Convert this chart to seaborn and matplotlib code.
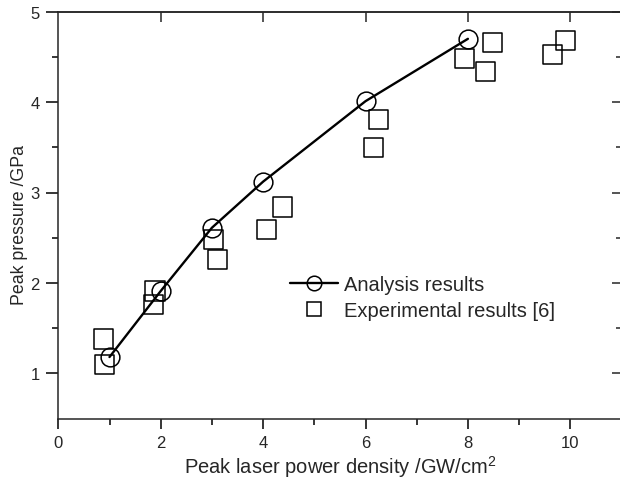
import matplotlib
matplotlib.use("Agg")
import matplotlib.pyplot as plt
from matplotlib.lines import Line2D
import seaborn as sns
import pandas as pd

# ---- data ----
analysis_x = [1, 2, 3, 4, 6, 8]
analysis_y = [1.18, 1.91, 2.61, 3.12, 4.01, 4.70]

exp_x = [0.88, 0.91, 1.86, 1.89, 3.03, 3.11, 4.07, 4.38, 6.16, 6.25, 7.94, 8.35, 8.48, 9.66, 9.90]
exp_y = [1.38, 1.10, 1.76, 1.91, 2.48, 2.26, 2.59, 2.84, 3.50, 3.81, 4.48, 4.34, 4.66, 4.53, 4.68]

x_ticks = [0, 2, 4, 6, 8, 10]
y_ticks = [1, 2, 3, 4, 5]
x_label = "Peak laser power density /GW/cm$^2$"
y_label = "Peak pressure /GPa"
legend_labels = ["Analysis results", "Experimental results [6]"]

sns.set_style("ticks")
plt.rcParams["font.family"] = ["Liberation Sans", "DejaVu Sans"]
plt.rcParams["mathtext.fontset"] = "custom"
plt.rcParams["mathtext.rm"] = "Liberation Sans"

df_a = pd.DataFrame({"x": analysis_x, "y": analysis_y})
df_e = pd.DataFrame({"x": exp_x, "y": exp_y})

fig = plt.figure(figsize=(6.2, 4.81), dpi=100)
ax = fig.add_axes([58.3 / 620, 1 - 419.5 / 481, (621.5 - 58.3) / 620, (419.5 - 12.7) / 481])

sns.lineplot(data=df_a, x="x", y="y", ax=ax, color="black", lw=1.7,
             marker="o", markersize=13.5, markerfacecolor="none",
             markeredgecolor="black", markeredgewidth=1.1, zorder=3)
sns.scatterplot(data=df_e, x="x", y="y", ax=ax, marker="s", s=190,
                facecolors="none", edgecolor="black", linewidth=1.1, zorder=4)

ax.set_xlim(0, 11)
ax.set_ylim(0.5, 5)
ax.set_xticks(x_ticks)
ax.set_yticks(y_ticks)
ax.set_xticks([1, 3, 5, 7, 9], minor=True)
ax.set_yticks([1.5, 2.5, 3.5, 4.5], minor=True)
for s in ax.spines.values():
    s.set_linewidth(1.1)
ax.tick_params(which="major", direction="out", length=7, width=1.1,
               labelsize=12, pad=5, color="black")
ax.tick_params(which="minor", direction="out", length=4, width=1.1, color="black")
ax.tick_params(axis="y", which="major", length=8.5, pad=5)

top = ax.secondary_xaxis("top")
top.set_xticks(x_ticks[1:])
top.tick_params(direction="in", length=7, width=1.1, labeltop=False)
right = ax.secondary_yaxis("right")
right.set_yticks(y_ticks)
right.set_yticks([1.5, 2.5, 3.5, 4.5], minor=True)
right.tick_params(which="major", direction="in", length=7, width=1.1, labelright=False)
right.tick_params(which="minor", direction="in", length=4, width=1.1)
for sec in (top, right):
    for s in sec.spines.values():
        s.set_linewidth(1.1)

ax.set_xlabel(x_label, fontsize=14.5, labelpad=2)
ax.set_ylabel(y_label, fontsize=12.8)
ax.yaxis.set_label_coords(-0.053, 0.478)

handles = [
    Line2D([], [], color="black", lw=1.7, marker="o", ms=10.5, mfc="none", mec="black", mew=1.1),
    Line2D([], [], ls="none", marker="s", ms=10.5, mfc="none", mec="black", mew=1.1),
]
ax.legend(handles, legend_labels, frameon=False, fontsize=14.5,
          loc="upper left", bbox_to_anchor=(290 / 620, 1 - 276 / 481),
          bbox_transform=fig.transFigure, handlelength=2.4, handletextpad=0.3,
          labelspacing=0.35, borderpad=0, borderaxespad=0)

fig.savefig("out.png", dpi=100)
